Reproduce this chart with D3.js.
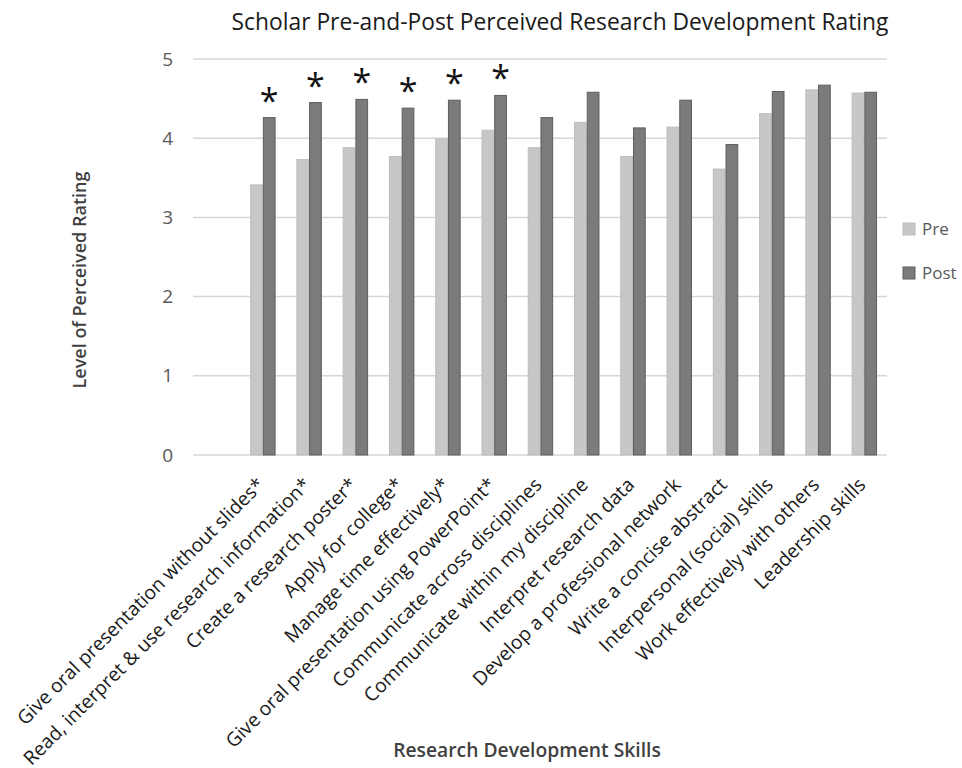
<!DOCTYPE html>
<html>
<head>
<meta charset="utf-8">
<script src="https://cdn.jsdelivr.net/npm/d3@7"></script>
<style>
  html, body { margin: 0; padding: 0; background: #fff; }
  svg { display: block; font-family: "Open Sans", Lato, sans-serif; }
</style>
</head>
<body>
<svg id="chart" width="962" height="768"></svg>
<script>
// ── Data ──────────────────────────────────────────────────────────────────
const skills = [
  'Give oral presentation without slides*',
  'Read, interpret & use research information*',
  'Create a research poster*',
  'Apply for college*',
  'Manage time effectively*',
  'Give oral presentation using PowerPoint*',
  'Communicate across disciplines',
  'Communicate within my discipline',
  'Interpret research data',
  'Develop a professional network',
  'Write a concise abstract',
  'Interpersonal (social) skills',
  'Work effectively with others',
  'Leadership skills'
];
const preValues  = [3.41, 3.73, 3.88, 3.77, 3.99, 4.10, 3.88, 4.20, 3.77, 4.14, 3.61, 4.31, 4.61, 4.57];
const postValues = [4.26, 4.45, 4.49, 4.38, 4.48, 4.54, 4.26, 4.58, 4.13, 4.48, 3.92, 4.59, 4.67, 4.58];
const significant = [true, true, true, true, true, true, false, false, false, false, false, false, false, false];
const seriesNames = ['Pre', 'Post'];
const yTicks      = [0, 1, 2, 3, 4, 5];

const FILL   = { Pre: '#c7c7c7', Post: '#7b7b7b' };
const STROKE = { Pre: '#bdbdbd', Post: '#5e5e5e' };

// ── Layout ────────────────────────────────────────────────────────────────
const svg = d3.select('#chart');
const plot = { left: 193, right: 887, top: 59, bottom: 455 };
const step0 = (plot.right - plot.left) / (skills.length + 1);   // first slot stays empty

const x0 = d3.scaleBand()
  .domain(skills)
  .range([plot.left + step0, plot.right])
  .padding(0);
const x1 = d3.scaleBand()
  .domain(seriesNames)
  .range([x0.bandwidth() * 0.235, x0.bandwidth() * 0.785])
  .padding(0);
const y = d3.scaleLinear().domain([0, 5]).range([plot.bottom, plot.top]);

const rows = skills.map((s, i) => ({ skill: s, Pre: preValues[i], Post: postValues[i], sig: significant[i] }));

// ── Gridlines + y labels ──────────────────────────────────────────────────
svg.append('g').selectAll('line')
  .data(yTicks)
  .join('line')
  .attr('x1', plot.left).attr('x2', plot.right)
  .attr('y1', d => y(d)).attr('y2', d => y(d))
  .attr('stroke', '#d6d6d6').attr('stroke-width', 1.5);

svg.append('g').selectAll('text')
  .data(yTicks)
  .join('text')
  .attr('x', 173).attr('y', d => y(d))
  .attr('dy', '0.35em')
  .attr('text-anchor', 'end')
  .attr('font-size', 19)
  .attr('fill', '#595959')
  .text(d => d);

// ── Bars ──────────────────────────────────────────────────────────────────
const groups = svg.append('g').selectAll('g')
  .data(rows)
  .join('g')
  .attr('transform', d => `translate(${x0(d.skill)},0)`);

groups.selectAll('rect')
  .data(d => seriesNames.map(k => ({ key: k, value: d[k] })))
  .join('rect')
  .attr('x', d => x1(d.key) + 0.5)
  .attr('width', x1.bandwidth() - 1)
  .attr('y', d => y(d.value))
  .attr('height', d => y(0) - y(d.value))
  .attr('fill', d => FILL[d.key])
  .attr('stroke', d => STROKE[d.key])
  .attr('stroke-width', 1);

// asterisks above significant post bars
groups.filter(d => d.sig)
  .append('text')
  .attr('x', x1('Post') + x1.bandwidth() / 2)
  .attr('y', d => y(d.Post) - 5)
  .attr('text-anchor', 'middle')
  .attr('font-size', 34)
  .attr('fill', '#111')
  .text('*');

// ── X labels ──────────────────────────────────────────────────────────────
svg.append('g').selectAll('text')
  .data(skills)
  .join('text')
  .attr('transform', d => `translate(${x0(d) + x0.bandwidth() / 2 + 3},${plot.bottom + 31}) rotate(-45)`)
  .attr('text-anchor', 'end')
  .attr('font-size', 19.3)
  .attr('fill', '#1a1a1a')
  .text(d => d);

// ── Titles ────────────────────────────────────────────────────────────────
svg.append('text')
  .attr('x', 560).attr('y', 30)
  .attr('text-anchor', 'middle')
  .attr('font-size', 22.8)
  .attr('fill', '#1a1a1a')
  .text('Scholar Pre-and-Post Perceived Research Development Rating');

svg.append('text')
  .attr('transform', 'translate(86,280) rotate(-90)')
  .attr('text-anchor', 'middle')
  .attr('font-size', 18)
  .attr('font-weight', 600)
  .attr('fill', '#404040')
  .text('Level of Perceived Rating');

svg.append('text')
  .attr('x', 527).attr('y', 757)
  .attr('text-anchor', 'middle')
  .attr('font-size', 19.3)
  .attr('font-weight', 600)
  .attr('fill', '#404040')
  .text('Research Development Skills');

// ── Legend ────────────────────────────────────────────────────────────────
const legend = svg.append('g').selectAll('g')
  .data(seriesNames)
  .join('g')
  .attr('transform', (d, i) => `translate(903,${223 + i * 44})`);
legend.append('rect')
  .attr('width', 12).attr('height', 12)
  .attr('fill', d => FILL[d]).attr('stroke', d => STROKE[d]);
legend.append('text')
  .attr('x', 19).attr('y', 6).attr('dy', '0.35em')
  .attr('font-size', 17)
  .attr('fill', '#595959')
  .text(d => d);
</script>
</body>
</html>
